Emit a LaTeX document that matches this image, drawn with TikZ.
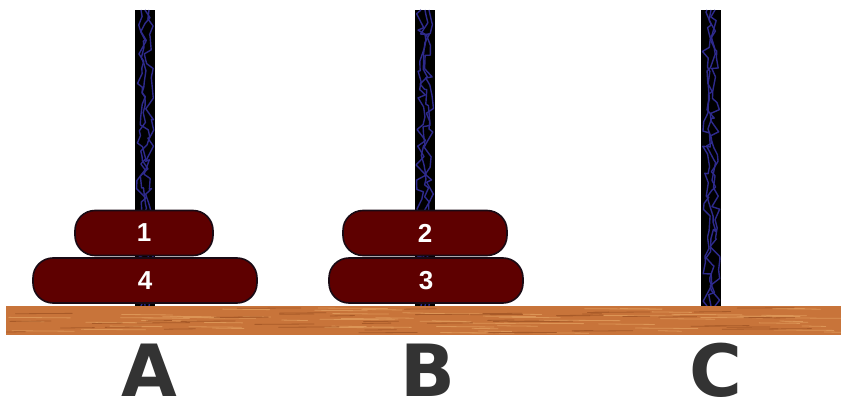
\documentclass[tikz,border=0pt]{standalone}
\usepackage{fontspec}
\setmainfont{Liberation Sans}
\newfontfamily\labelfont{DejaVu Sans}
\usetikzlibrary{decorations.pathmorphing}
\definecolor{wood}{HTML}{C8743A}
\definecolor{woodlight}{HTML}{DC9556}
\definecolor{wooddark}{HTML}{A85A28}
\definecolor{diskred}{HTML}{5E0000}
\definecolor{diskedge}{HTML}{1A0A14}
\definecolor{pegblue}{HTML}{2E2A8C}
\definecolor{labelgray}{HTML}{333333}
\tikzset{
  disk/.style={draw=diskedge, line width=1.6pt, fill=diskred, rounded corners=20pt,
    minimum height=45pt, inner sep=0pt, text=white, font=\bfseries\fontsize{26}{26}\selectfont},
  peglabel/.style={text=labelgray, font=\labelfont\bfseries\fontsize{72}{72}\selectfont,
    inner sep=0pt, anchor=base},
  pegrod/.style={fill=black, draw=none},
  grain/.style={line width=0.8pt, line cap=round}
}
\begin{document}
\begin{tikzpicture}[x=1pt,y=-1pt]
  \useasboundingbox (0,0) rectangle (841,401);
  \fill[white] (0,0) rectangle (841,401);

  % rods with a blue marbled pattern
  \pgfmathsetseed{7}
  \foreach \px/\nm in {145/A,425/B,711/C}{
    \fill[pegrod] (\px-10,10) rectangle (\px+10,306);
    \begin{scope}
      \clip (\px-10,10) rectangle (\px+10,306);
      \foreach \k in {1,...,3}{
        \draw[pegblue, line width=1.4pt, line join=round,
          decorate, decoration={random steps, segment length=7pt, amplitude=5pt}]
          (\px-8+4*\k,10) -- (\px-8+4*\k,306);
      }
    \end{scope}
    \coordinate (top\nm) at (\px,10);
  }

  % wooden base with grain streaks
  \fill[wood] (6,306) rectangle (841,335);
  \begin{scope}
    \clip (6,306) rectangle (841,335);
    \foreach \i in {1,...,70}{
      \pgfmathsetmacro{\gx}{6+rnd*820}
      \pgfmathsetmacro{\gy}{308+rnd*25}
      \pgfmathsetmacro{\gl}{20+rnd*60}
      \draw[grain, woodlight] (\gx,\gy) -- ++(\gl,0.5);
    }
    \foreach \i in {1,...,50}{
      \pgfmathsetmacro{\gx}{6+rnd*820}
      \pgfmathsetmacro{\gy}{308+rnd*25}
      \pgfmathsetmacro{\gl}{15+rnd*50}
      \draw[grain, wooddark] (\gx,\gy) -- ++(\gl,-0.4);
    }
  \end{scope}

  % disks
  \node[disk, minimum width=224pt] (d4) at (145,280.5) {4};
  \node[disk, minimum width=138pt] (d1) at (144,233) {1};
  \node[disk, minimum width=194pt] (d3) at (426,280.5) {3};
  \node[disk, minimum width=164pt] (d2) at (425,233) {2};

  % rod labels
  \node[peglabel] (lA) at (149,396) {A};
  \node[peglabel] (lB) at (428,396) {B};
  \node[peglabel] (lC) at (716,396) {C};
\end{tikzpicture}
\end{document}
